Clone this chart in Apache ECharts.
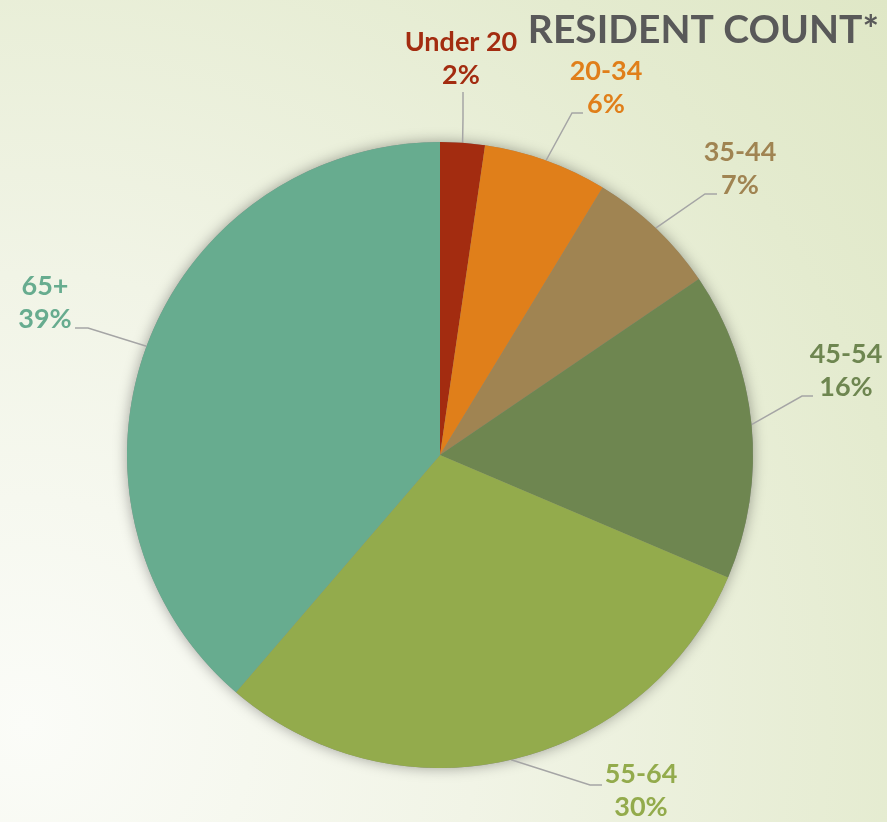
<!DOCTYPE html>
<html>
<head>
<meta charset="utf-8">
<script src="https://cdn.jsdelivr.net/npm/echarts@6/dist/echarts.min.js"></script>
<style>
  html, body { margin: 0; padding: 0; }
  #main {
    width: 887px;
    height: 822px;
    background: radial-gradient(circle at 3% 88%, #fbfcf8 0%, #f1f4e6 40%, #e4ebcf 80%, #dfe7c6 100%);
  }
</style>
</head>
<body>
<div id="main"></div>
<script>
// 数据
var categories = ['Under 20', '20-34', '35-44', '45-54', '55-64', '65+']
var shares = [2.3, 6.4, 6.8, 15.9, 29.9, 38.7]
var colors = ['#a32c10', '#e07f1a', '#a08452', '#6e8650', '#93ab4c', '#67ac8f']

// label placement: [label center x, y, knee x, y, end x, y]
var labelPos = [
  [461, 59, 463, 118, 463, 92],
  [606, 88, 572, 113, 583, 113],
  [740, 169, 705, 194, 717, 194],
  [846, 371, 802, 396, 813, 396],
  [641, 791, 590, 785, 602, 785],
  [45, 303, 88, 328, 75, 328]
]

var total = shares.reduce(function (a, b) { return a + b }, 0)
var pieData = categories.map(function (name, i) {
  return {
    name: name,
    value: shares[i],
    itemStyle: { color: colors[i] },
    label: { color: colors[i] }
  }
})

var chart = echarts.init(document.getElementById('main'))
chart.setOption({
  backgroundColor: 'transparent',
  title: {
    text: 'RESIDENT COUNT*',
    right: 3,
    top: 6,
    textStyle: {
      fontFamily: 'Lato',
      fontWeight: 'bold',
      fontSize: 39,
      color: '#595959'
    }
  },
  series: [{
    // shadow behind the pie
    type: 'pie',
    silent: true,
    center: [440, 455],
    radius: 313,
    z: 1,
    label: { show: false },
    labelLine: { show: false },
    itemStyle: {
      color: '#8a8a8a',
      shadowBlur: 14,
      shadowColor: 'rgba(0, 0, 0, 0.35)'
    },
    data: [total]
  }, {
    type: 'pie',
    center: [440, 455],
    radius: 313,
    startAngle: 90,
    z: 2,
    percentPrecision: 0,
    avoidLabelOverlap: false,
    label: {
      show: true,
      formatter: '{b}\n{d}%',
      fontFamily: 'Lato',
      fontWeight: 'bold',
      fontSize: 27,
      lineHeight: 33,
      align: 'center'
    },
    labelLine: {
      show: true,
      length: 10,
      length2: 10,
      lineStyle: { color: '#a5a5a5', width: 1.5 }
    },
    labelLayout: function (params) {
      var p = labelPos[params.dataIndex]
      var start = params.labelLinePoints[0]
      return {
        x: p[0],
        y: p[1],
        align: 'center',
        verticalAlign: 'middle',
        labelLinePoints: [start, [p[2], p[3]], [p[4], p[5]]]
      }
    },
    data: pieData
  }]
})
</script>
</body>
</html>
